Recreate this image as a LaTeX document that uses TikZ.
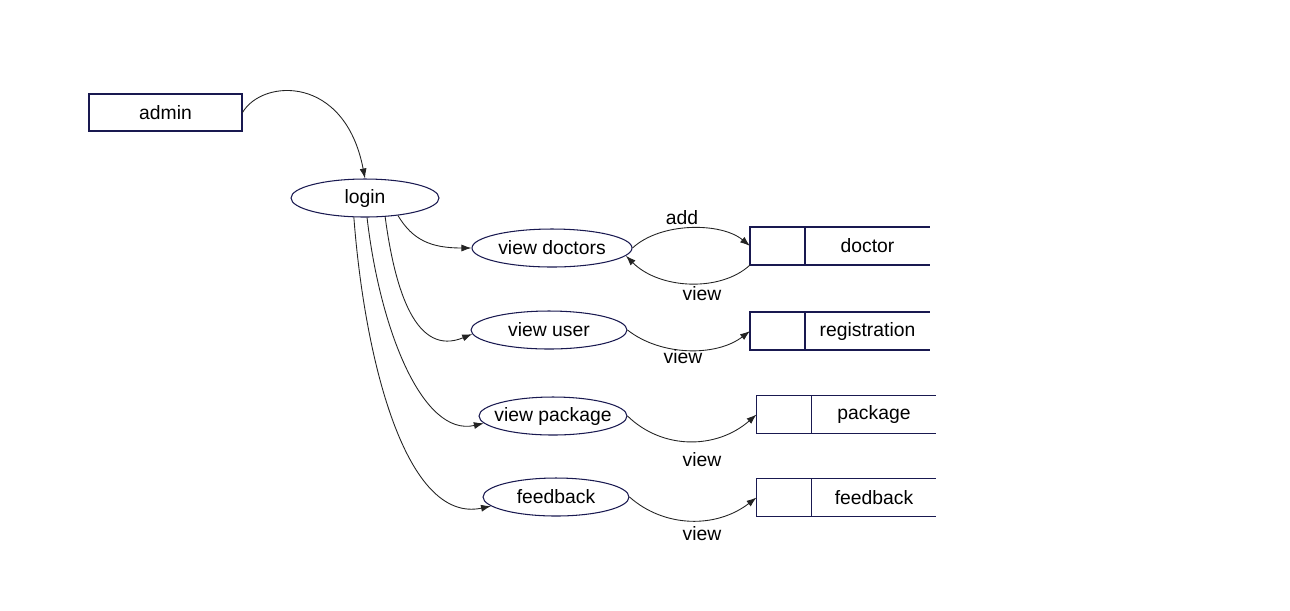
\documentclass[tikz,border=0pt]{standalone}
\usepackage{fontspec}
\setmainfont{Liberation Sans}
\usepackage{tikz}
\usetikzlibrary{shapes.geometric,positioning,arrows.meta}

\definecolor{boxblue}{RGB}{25,25,80}
\definecolor{flowgray}{RGB}{35,35,35}

\begin{document}
\begin{tikzpicture}[x=0.02cm, y=-0.02cm, font=\fontsize{11}{13}\selectfont,
  entity/.style={draw=boxblue, line width=0.6pt, minimum width=3.06cm, minimum height=0.74cm, inner sep=0pt},
  process/.style={ellipse, draw=boxblue, line width=0.6pt, minimum height=0.76cm, inner xsep=-0.15cm, inner ysep=0pt},
  storeid/.style={draw=boxblue, line width=0.6pt, minimum width=1.1cm, minimum height=0.76cm, inner sep=0pt, outer sep=0pt},
  storename/.style={minimum width=2.5cm, minimum height=0.76cm, inner sep=0pt, outer sep=0pt},
  storeline/.style={boxblue, line width=0.6pt},
  flow/.style={flowgray, line width=0.5pt, -{Latex[length=2mm,width=1.4mm]}}]
  \useasboundingbox (0,0) rectangle (1290,610);

  % Admin and login
  \node[entity] (admin) at (165.5,112.5) {admin};
  \node[process, minimum width=2.96cm] (login) at (365,198) {login};
  \draw[flow] (admin.east) .. controls +(20,-34) and +(-20,-104) .. (login.north);

  % Processes
  \node[process, minimum width=3.2cm] (viewdoctors) at (552,248) {view doctors};
  \node[process, minimum width=3.12cm] (viewuser) at (549,330) {view user};
  \node[process, minimum width=2.96cm] (viewpackage) at (553,416) {view package};
  \node[process, minimum width=2.92cm] (feedback) at (556,497) {feedback};

  % login -> processes
  \draw[flow] (login.-28) .. controls +(15,25) and +(-40,0) .. (viewdoctors.west);
  \draw[flow] (login.-43) .. controls +(10,75) and +(-56,23) .. (viewuser.183);
  \draw[flow] (login.-84) .. controls +(13,113) and +(-61,14) .. (viewpackage.186);
  \draw[flow] (login.-120) .. controls +(11,144) and +(-85,18) .. (feedback.188);

  % Data stores
  \node[storeid] (doctorid) at (777.5,246) {};
  \node[storename, right=0pt of doctorid] (doctor) {doctor};
  \node[storeid] (registrationid) at (777.5,331) {};
  \node[storename, right=0pt of registrationid] (registration) {registration};
  \node[storeid] (packageid) at (784,414.5) {};
  \node[storename, right=0pt of packageid] (package) {package};
  \node[storeid] (feedbackid) at (784,497.5) {};
  \node[storename, right=0pt of feedbackid] (feedbackstore) {feedback};
  \foreach \s/\n in {doctorid/doctor, registrationid/registration, packageid/package, feedbackid/feedbackstore} {
    \draw[storeline] (\s.north east) -- (\n.north east) (\s.south east) -- (\n.south east);
  }

  % Processes <-> data stores
  \draw[flow] (viewdoctors.east) .. controls +(28,-26) and +(-29,-24) .. (doctorid.west);
  \draw[flow] (doctorid.south west) .. controls +(-29,27) and +(34,34) .. (viewdoctors.-6);
  \draw[flow] (viewuser.east) .. controls +(33,26) and +(-34,26) .. (registrationid.west);
  \draw[flow] (viewpackage.east) .. controls +(35,34) and +(-40,35) .. (packageid.west);
  \draw[flow] (feedback.east) .. controls +(35,31) and +(-40,31) .. (feedbackid.west);

  % Flow labels
  \node (addlbl) at (682,218) {add};
  \node (viewlbla) at (702,294) {view};
  \node (viewlblb) at (683,357) {view};
  \node (viewlblc) at (702,460) {view};
  \node (viewlbld) at (702,534) {view};
\end{tikzpicture}
\end{document}
